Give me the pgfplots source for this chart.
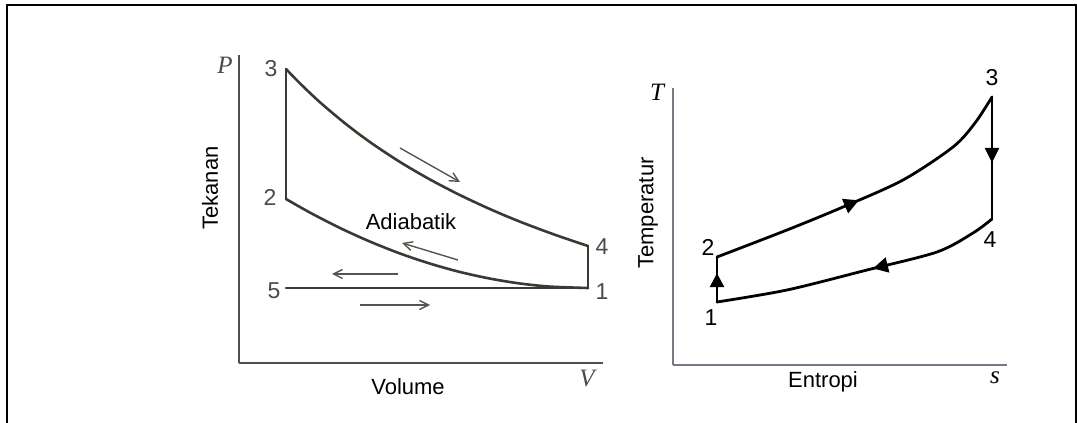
\documentclass[border=0pt]{standalone}
\usepackage{pgfplots}
\pgfplotsset{compat=1.18}
\usepackage{fontspec}
\setmainfont{Liberation Sans}
\newfontfamily\serifit{Liberation Serif}
\usetikzlibrary{arrows.meta,decorations.markings}
\definecolor{pvline}{RGB}{58,58,50}
\definecolor{pvaxis}{RGB}{80,80,75}
\definecolor{pvarrow}{RGB}{85,85,80}
\definecolor{pvnum}{RGB}{75,75,70}
\definecolor{tsaxis}{RGB}{120,120,132}
\newcommand\lab{\fontsize{22}{26}\selectfont}
\newcommand\num{\fontsize{23}{27}\selectfont}
\newcommand\vv{\serifit\itshape\fontsize{25}{30}\selectfont}
\begin{document}
\begin{tikzpicture}[x=1pt,y=1pt]
\useasboundingbox (0,0) rectangle (1077,423);
\draw[line width=2pt] (7,0) -- (7,417.5) -- (1077,417.5);
\draw[line width=2pt] (1075.5,417.5) -- (1075.5,0);

% ---------------- P-V diagram ----------------
\begin{axis}[at={(239pt,60pt)}, anchor=south west, scale only axis,
  width=364pt, height=308pt, xmin=239, xmax=603, ymin=60, ymax=368,
  axis lines=left, axis line style={-, line width=1.8pt, draw=pvaxis},
  ticks=none, clip=false]
% 3 -> 4 adiabatic expansion
\addplot[pvline, line width=2.6pt, smooth, line cap=round] coordinates {
 (286,354.0) (300,339.6) (320,320.7) (345,299.7) (370,280.9) (400,261.0)
 (430,243.5) (460,227.9) (490,213.9) (520,201.3) (555,188.2) (588,177.0)};
% 4 -> 1
\addplot[pvline, line width=2.6pt, line cap=round] coordinates {(588,177) (588,135)};
% 5 - 1
\addplot[pvline, line width=2.6pt, line cap=round] coordinates {(286,135) (588,135)};
% 1 -> 2 adiabatic compression
\addplot[pvline, line width=2.6pt, smooth, line cap=round] coordinates {
 (286,224) (310,210.4) (340,195.0) (370,181.4) (400,169.5) (430,159.4)
 (460,151.0) (490,144.4) (520,139.5) (550,136.4) (588,135)};
% 2 -> 3
\addplot[pvline, line width=2.6pt, line cap=round] coordinates {(286,224) (286,354)};
% direction arrows
\addplot[pvarrow, line width=1.4pt, -{Straight Barb[length=9pt,width=9pt]}] coordinates {(400,275) (460,241)};
\addplot[pvarrow, line width=1.4pt, -{Straight Barb[length=9pt,width=9pt]}] coordinates {(458,163) (402,180)};
\addplot[pvarrow, line width=1.4pt, -{Straight Barb[length=9pt,width=9pt]}] coordinates {(398,149) (332,149)};
\addplot[pvarrow, line width=1.4pt, -{Straight Barb[length=9pt,width=9pt]}] coordinates {(360,118) (430,118)};
% labels
\node[pvnum, font=\num] at (axis cs:271,354) {3};
\node[pvnum, font=\num] at (axis cs:270,226) {2};
\node[pvnum, font=\num] at (axis cs:602,176) {4};
\node[pvnum, font=\num] at (axis cs:602,131) {1};
\node[pvnum, font=\num] at (axis cs:274,132) {5};
\node[pvnum, font=\vv] at (axis cs:225,358) {P};
\node[pvnum, font=\vv] at (axis cs:587,44) {V};
\node[font=\lab] at (axis cs:411,201) {Adiabatik};
\node[font=\lab, rotate=90] at (axis cs:210,235) {Tekanan};
\node[font=\lab] at (axis cs:408,36) {Volume};
\end{axis}

% ---------------- T-s diagram ----------------
\begin{axis}[at={(673pt,58pt)}, anchor=south west, scale only axis,
  width=334pt, height=277pt, xmin=673, xmax=1007, ymin=58, ymax=335,
  axis lines=left, axis line style={-, line width=2.2pt, draw=tsaxis},
  ticks=none, clip=false]
% 2 -> 3
\addplot[black, line width=2.8pt, smooth, line cap=round, postaction={decorate},
  decoration={markings, mark=at position 0.47 with {\arrow{Triangle[length=15pt,width=15pt]}}}]
  coordinates {(717,166) (787,193) (843,216) (903,243) (953,276) (975,300) (992,326)};
% 3 -> 4
\addplot[black, line width=2.8pt, line cap=round, postaction={decorate},
  decoration={markings, mark=at position 0.54 with {\arrow{Triangle[length=15pt,width=14pt]}}}]
  coordinates {(992,326) (992,204)};
% 4 -> 1
\addplot[black, line width=2.8pt, smooth, line cap=round, postaction={decorate},
  decoration={markings, mark=at position 0.45 with {\arrow{Triangle[length=15pt,width=15pt]}}}]
  coordinates {(992,204) (973,190) (937,171) (867,153) (787,133) (717,121)};
% 1 -> 2
\addplot[black, line width=2.8pt, line cap=round, postaction={decorate},
  decoration={markings, mark=at position 0.64 with {\arrow{Triangle[length=14pt,width=14pt]}}}]
  coordinates {(717,121) (717,166)};
% labels
\node[font=\num] at (axis cs:992,345) {3};
\node[font=\num] at (axis cs:708,176) {2};
\node[font=\num] at (axis cs:990,183) {4};
\node[font=\num] at (axis cs:711,105) {1};
\node[font=\vv] at (axis cs:657,331) {T};
\node[font=\vv] at (axis cs:995,45) {s};
\node[font=\lab, rotate=90] at (axis cs:648,210) {Temperatur};
\node[font=\lab] at (axis cs:823,41) {Entropi};
\end{axis}
\end{tikzpicture}
\end{document}
